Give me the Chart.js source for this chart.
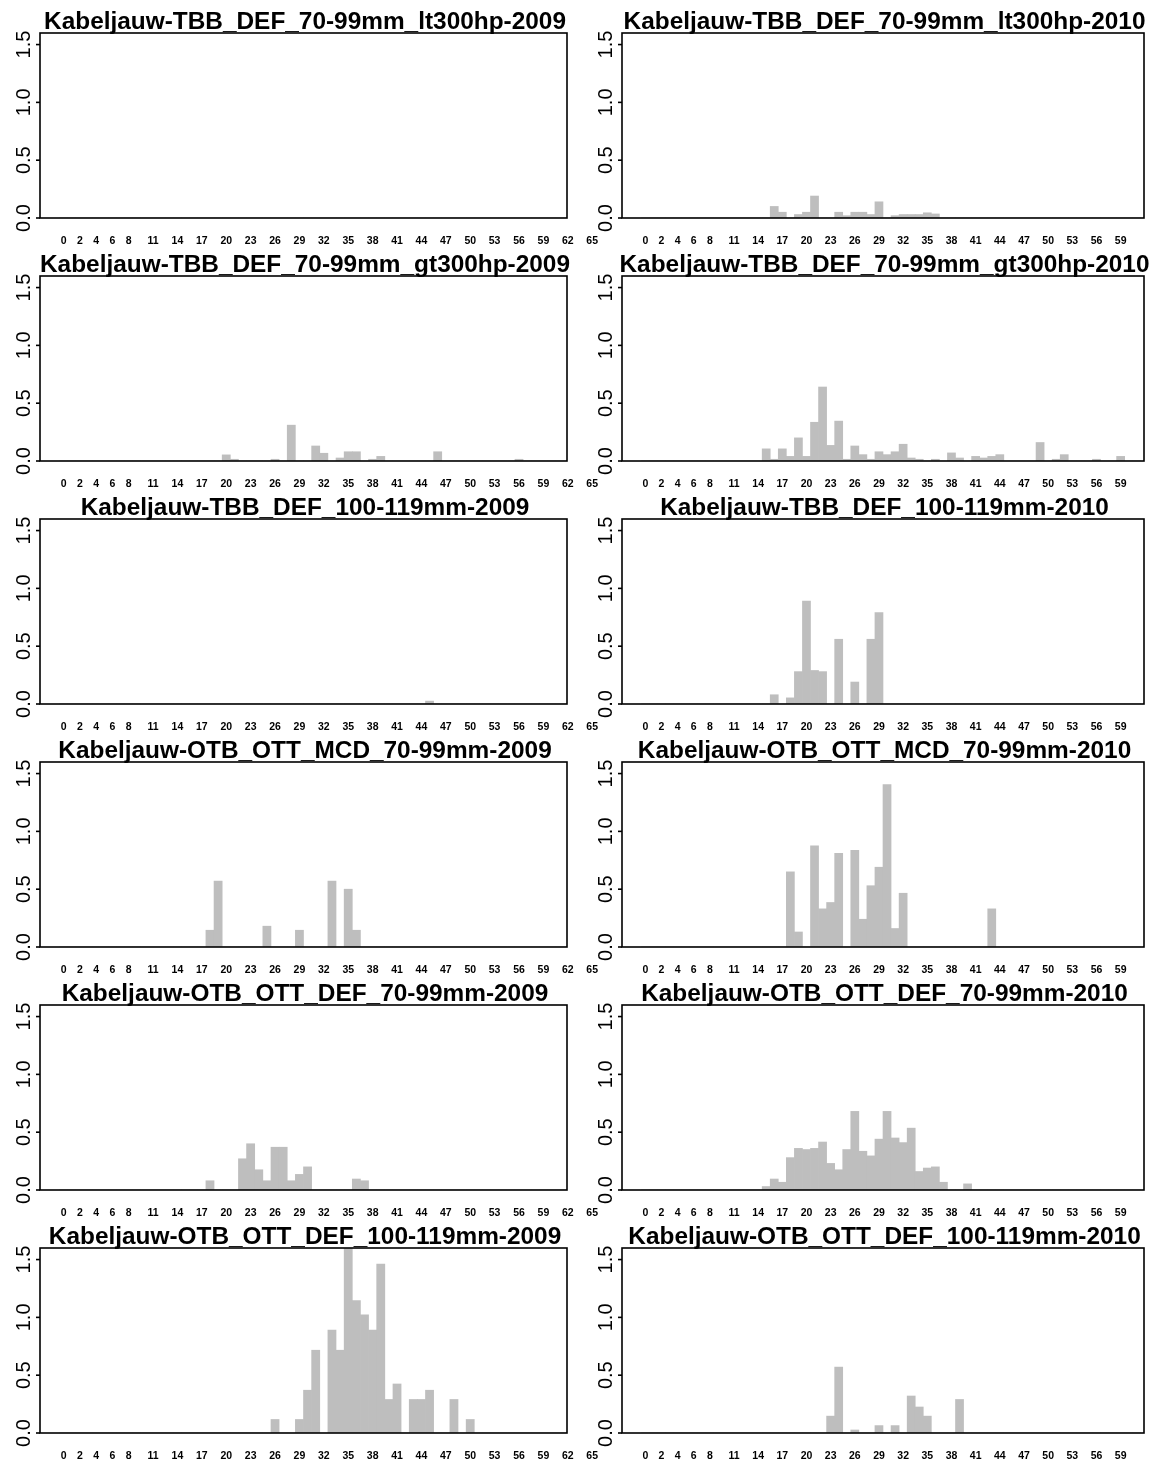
<!DOCTYPE html>
<html lang="nl">
<head>
  <meta charset="UTF-8" />
  <title>Kabeljauw lengteverdelingen 2009-2010</title>
  <script src="https://cdn.jsdelivr.net/npm/chart.js"></script>
  <style>
    body { margin: 0; background: #fff; }
    #panels { position: relative; width: 1156px; height: 1465px; }
    #panels canvas { position: absolute; }
  </style>
</head>
<body>
<div id="panels"></div>

<script>
  // length classes (bar names) per year
  const classes2009 = [
    0, 1, 2, 3, 4, 5, 6, 7, 8, 9,
    10, 11, 12, 13, 14, 15, 16, 17, 18, 19,
    20, 21, 22, 23, 24, 25, 26, 27, 28, 29,
    30, 31, 32, 33, 34, 35, 36, 37, 38, 39,
    40, 41, 42, 43, 44, 45, 46, 47, 48, 49,
    50, 51, 52, 53, 54, 55, 56, 57, 58, 59,
    60, 61, 62, 63, 64, 65
  ];
  const classes2010 = [
    0, 1, 2, 3, 4, 5, 6, 7, 8, 9,
    10, 11, 12, 13, 14, 15, 16, 17, 18, 19,
    20, 21, 22, 23, 24, 25, 26, 27, 28, 29,
    30, 31, 32, 33, 34, 35, 36, 37, 38, 39,
    40, 41, 42, 43, 44, 45, 46, 47, 48, 49,
    50, 51, 52, 53, 54, 55, 56, 57, 58, 59,
    60, 61
  ];

  // names that barplot manages to print under the bars
  const xTicks2009 = [0, 2, 4, 6, 8, 11, 14, 17, 20, 23, 26, 29, 32, 35, 38, 41, 44, 47, 50, 53, 56, 59, 62, 65];
  const xTicks2010 = [0, 2, 4, 6, 8, 11, 14, 17, 20, 23, 26, 29, 32, 35, 38, 41, 44, 47, 50, 53, 56, 59];
  const yTicks = [0, 0.5, 1.0, 1.5];

  const tbbLt300hp2009 = [
    0, 0, 0, 0, 0, 0, 0, 0, 0, 0,
    0, 0, 0, 0, 0, 0, 0, 0, 0, 0,
    0, 0, 0, 0, 0, 0, 0, 0, 0, 0,
    0, 0, 0, 0, 0, 0, 0, 0, 0, 0,
    0, 0, 0, 0, 0, 0, 0, 0, 0, 0,
    0, 0, 0, 0, 0, 0, 0, 0, 0, 0,
    0, 0, 0, 0, 0, 0
  ];
  const tbbLt300hp2010 = [
    0, 0, 0, 0, 0, 0, 0, 0, 0, 0,
    0, 0, 0, 0, 0, 0, 0.10, 0.05, 0, 0.03,
    0.05, 0.19, 0, 0, 0.05, 0.02, 0.05, 0.05, 0.03, 0.14,
    0, 0.02, 0.03, 0.03, 0.03, 0.045, 0.035, 0, 0, 0,
    0, 0, 0, 0, 0, 0, 0, 0, 0, 0,
    0, 0, 0, 0, 0, 0, 0, 0, 0, 0,
    0, 0
  ];
  const tbbGt300hp2009 = [
    0, 0, 0, 0, 0, 0, 0, 0, 0, 0,
    0, 0, 0, 0, 0, 0, 0, 0, 0, 0,
    0.053, 0.015, 0, 0, 0, 0, 0.015, 0, 0.31, 0,
    0, 0.13, 0.067, 0, 0.026, 0.08, 0.08, 0, 0.015, 0.04,
    0, 0, 0, 0, 0, 0, 0.08, 0, 0, 0,
    0, 0, 0, 0, 0, 0, 0.015, 0, 0, 0,
    0, 0, 0, 0, 0, 0
  ];
  const tbbGt300hp2010 = [
    0, 0, 0, 0, 0, 0, 0, 0, 0, 0,
    0, 0, 0, 0, 0, 0.105, 0.015, 0.105, 0.04, 0.2,
    0.04, 0.335, 0.64, 0.135, 0.345, 0.015, 0.13, 0.055, 0.015, 0.08,
    0.055, 0.08, 0.145, 0.026, 0.015, 0, 0.015, 0, 0.07, 0.026,
    0, 0.04, 0.026, 0.04, 0.055, 0, 0, 0, 0, 0.16,
    0, 0.015, 0.055, 0, 0, 0, 0.015, 0, 0, 0.04,
    0, 0
  ];
  const tbb100mm2009 = [
    0, 0, 0, 0, 0, 0, 0, 0, 0, 0,
    0, 0, 0, 0, 0, 0, 0, 0, 0, 0,
    0, 0, 0, 0, 0, 0, 0, 0, 0, 0,
    0, 0, 0, 0, 0, 0, 0, 0, 0, 0,
    0, 0, 0, 0, 0, 0.025, 0, 0, 0, 0,
    0, 0, 0, 0, 0, 0, 0, 0, 0, 0,
    0, 0, 0, 0, 0, 0
  ];
  const tbb100mm2010 = [
    0, 0, 0, 0, 0, 0, 0, 0, 0, 0,
    0, 0, 0, 0, 0, 0, 0.08, 0, 0.053, 0.28,
    0.89, 0.29, 0.28, 0, 0.56, 0, 0.19, 0, 0.56, 0.79,
    0, 0, 0, 0, 0, 0, 0, 0, 0, 0,
    0, 0, 0, 0, 0, 0, 0, 0, 0, 0,
    0, 0, 0, 0, 0, 0, 0, 0, 0, 0,
    0, 0
  ];
  const ottMcd2009 = [
    0, 0, 0, 0, 0, 0, 0, 0, 0, 0,
    0, 0, 0, 0, 0, 0, 0, 0, 0.145, 0.57,
    0, 0, 0, 0, 0, 0.18, 0, 0, 0, 0.145,
    0, 0, 0, 0.57, 0, 0.50, 0.145, 0, 0, 0,
    0, 0, 0, 0, 0, 0, 0, 0, 0, 0,
    0, 0, 0, 0, 0, 0, 0, 0, 0, 0,
    0, 0, 0, 0, 0, 0
  ];
  const ottMcd2010 = [
    0, 0, 0, 0, 0, 0, 0, 0, 0, 0,
    0, 0, 0, 0, 0, 0, 0, 0, 0.65, 0.13,
    0, 0.875, 0.33, 0.385, 0.81, 0, 0.835, 0.24, 0.53, 0.69,
    1.405, 0.16, 0.465, 0, 0, 0, 0, 0, 0, 0,
    0, 0, 0, 0.33, 0, 0, 0, 0, 0, 0,
    0, 0, 0, 0, 0, 0, 0, 0, 0, 0,
    0, 0
  ];
  const ottDef2009 = [
    0, 0, 0, 0, 0, 0, 0, 0, 0, 0,
    0, 0, 0, 0, 0, 0, 0, 0, 0.08, 0,
    0, 0, 0.27, 0.40, 0.175, 0.08, 0.37, 0.37, 0.08, 0.135,
    0.2, 0, 0, 0, 0, 0, 0.095, 0.08, 0, 0,
    0, 0, 0, 0, 0, 0, 0, 0, 0, 0,
    0, 0, 0, 0, 0, 0, 0, 0, 0, 0,
    0, 0, 0, 0, 0, 0
  ];
  const ottDef2010 = [
    0, 0, 0, 0, 0, 0, 0, 0, 0, 0,
    0, 0, 0, 0, 0, 0.03, 0.095, 0.067, 0.28, 0.36,
    0.35, 0.36, 0.415, 0.23, 0.175, 0.35, 0.68, 0.335, 0.295, 0.44,
    0.68, 0.45, 0.41, 0.535, 0.16, 0.19, 0.2, 0.067, 0, 0,
    0.053, 0, 0, 0, 0, 0, 0, 0, 0, 0,
    0, 0, 0, 0, 0, 0, 0, 0, 0, 0,
    0, 0
  ];
  const ottDef100mm2009 = [
    0, 0, 0, 0, 0, 0, 0, 0, 0, 0,
    0, 0, 0, 0, 0, 0, 0, 0, 0, 0,
    0, 0, 0, 0, 0, 0, 0.117, 0, 0, 0.117,
    0.37, 0.716, 0, 0.89, 0.716, 1.6, 1.146, 1.023, 0.89, 1.46,
    0.29, 0.424, 0, 0.29, 0.29, 0.37, 0, 0, 0.29, 0,
    0.117, 0, 0, 0, 0, 0, 0, 0, 0, 0,
    0, 0, 0, 0, 0, 0
  ];
  const ottDef100mm2010 = [
    0, 0, 0, 0, 0, 0, 0, 0, 0, 0,
    0, 0, 0, 0, 0, 0, 0, 0, 0, 0,
    0, 0, 0, 0.146, 0.57, 0, 0.026, 0, 0, 0.064,
    0, 0.064, 0, 0.32, 0.225, 0.146, 0, 0, 0, 0.29,
    0, 0, 0, 0, 0, 0, 0, 0, 0, 0,
    0, 0, 0, 0, 0, 0, 0, 0, 0, 0,
    0, 0
  ];

  const panels = [
    { title: 'Kabeljauw-TBB_DEF_70-99mm_lt300hp-2009', classes: classes2009, values: tbbLt300hp2009, ticks: xTicks2009 },
    { title: 'Kabeljauw-TBB_DEF_70-99mm_lt300hp-2010', classes: classes2010, values: tbbLt300hp2010, ticks: xTicks2010 },
    { title: 'Kabeljauw-TBB_DEF_70-99mm_gt300hp-2009', classes: classes2009, values: tbbGt300hp2009, ticks: xTicks2009 },
    { title: 'Kabeljauw-TBB_DEF_70-99mm_gt300hp-2010', classes: classes2010, values: tbbGt300hp2010, ticks: xTicks2010 },
    { title: 'Kabeljauw-TBB_DEF_100-119mm-2009', classes: classes2009, values: tbb100mm2009, ticks: xTicks2009 },
    { title: 'Kabeljauw-TBB_DEF_100-119mm-2010', classes: classes2010, values: tbb100mm2010, ticks: xTicks2010 },
    { title: 'Kabeljauw-OTB_OTT_MCD_70-99mm-2009', classes: classes2009, values: ottMcd2009, ticks: xTicks2009 },
    { title: 'Kabeljauw-OTB_OTT_MCD_70-99mm-2010', classes: classes2010, values: ottMcd2010, ticks: xTicks2010 },
    { title: 'Kabeljauw-OTB_OTT_DEF_70-99mm-2009', classes: classes2009, values: ottDef2009, ticks: xTicks2009 },
    { title: 'Kabeljauw-OTB_OTT_DEF_70-99mm-2010', classes: classes2010, values: ottDef2010, ticks: xTicks2010 },
    { title: 'Kabeljauw-OTB_OTT_DEF_100-119mm-2009', classes: classes2009, values: ottDef100mm2009, ticks: xTicks2009 },
    { title: 'Kabeljauw-OTB_OTT_DEF_100-119mm-2010', classes: classes2010, values: ottDef100mm2010, ticks: xTicks2010 }
  ];

  // base-R look: boxed plot, rotated y labels, names under bars, bold main title
  const rFrame = {
    id: 'rFrame',
    afterDatasetsDraw(chart, args, opts) {
      const { ctx, chartArea: a, scales: { x, y } } = chart;
      ctx.save();
      ctx.strokeStyle = '#000';
      ctx.fillStyle = '#000';
      ctx.lineWidth = 1.6;
      ctx.strokeRect(a.left, a.top, a.right - a.left, a.bottom - a.top);

      ctx.font = '20px "Liberation Sans", Arial, sans-serif';
      ctx.textAlign = 'center';
      ctx.textBaseline = 'middle';
      yTicks.forEach(v => {
        const py = y.getPixelForValue(v);
        ctx.beginPath();
        ctx.moveTo(a.left - 4, py);
        ctx.lineTo(a.left, py);
        ctx.stroke();
        ctx.save();
        ctx.translate(a.left - 16, py);
        ctx.rotate(-Math.PI / 2);
        ctx.fillText(v.toFixed(1), 0, 0);
        ctx.restore();
      });

      ctx.font = 'bold 10.5px "Liberation Sans", Arial, sans-serif';
      opts.ticks.forEach(k => {
        ctx.fillText(String(k), x.getPixelForValue(k + 0.5), a.bottom + 23);
      });

      ctx.font = 'bold 24.4px "Liberation Sans", Arial, sans-serif';
      ctx.textBaseline = 'alphabetic';
      ctx.fillText(opts.title, (a.left + a.right) / 2 + 1.5, a.top - 4.5);
      ctx.restore();
    }
  };

  const holder = document.getElementById('panels');

  panels.forEach((p, i) => {
    const row = Math.floor(i / 2);
    const col = i % 2;
    const canvas = document.createElement('canvas');
    canvas.width = col === 0 ? 610 : 576;
    canvas.height = 250;
    canvas.style.left = (col === 0 ? 0 : 580) + 'px';
    canvas.style.top = (row * 243) + 'px';
    holder.appendChild(canvas);

    new Chart(canvas, {
      type: 'bar',
      data: {
        datasets: [{
          data: p.classes.map((c, j) => ({ x: c + 0.5, y: p.values[j] })),
          backgroundColor: '#bebebe',
          borderWidth: 0,
          barPercentage: 1,
          categoryPercentage: 1
        }]
      },
      options: {
        responsive: false,
        animation: false,
        devicePixelRatio: 1,
        layout: {
          padding: col === 0
            ? { left: 40, right: 43, top: 33, bottom: 32 }
            : { left: 42, right: 12, top: 33, bottom: 32 }
        },
        scales: {
          x: { type: 'linear', min: -2.4, max: 62.4, offset: false, display: false },
          y: { min: 0, max: 1.6, display: false }
        },
        plugins: {
          legend: { display: false },
          tooltip: { enabled: false },
          rFrame: { title: p.title, ticks: p.ticks }
        }
      },
      plugins: [rFrame]
    });
  });
</script>
</body>
</html>
